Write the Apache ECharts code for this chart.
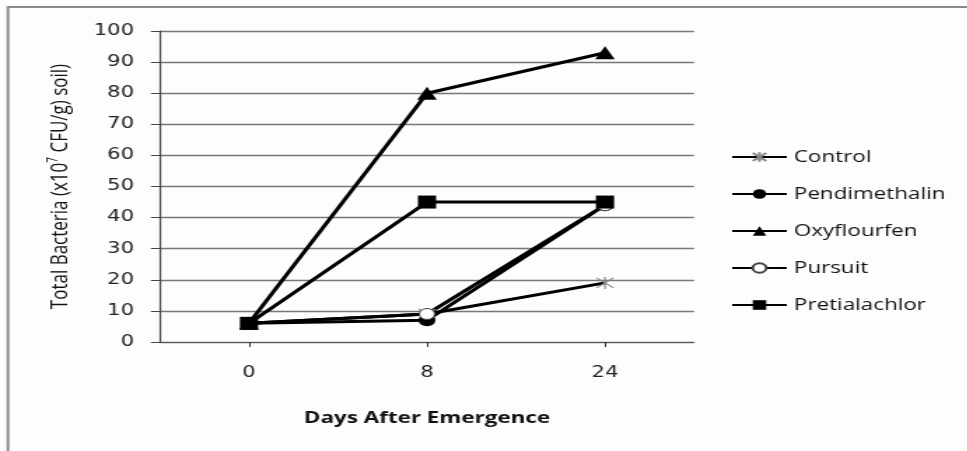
<!DOCTYPE html>
<html>
<head>
<meta charset="utf-8">
<style>
  html, body { margin: 0; padding: 0; background: #fdfdfd; overflow: hidden; }
  #wrap { width: 967px; height: 451px; overflow: hidden; }
  /* the figure is drawn narrow and widened, as in the printed original */
  #chart { width: 691px; height: 451px; transform: scaleX(1.4); transform-origin: 0 0; }
</style>
<script src="https://cdn.jsdelivr.net/npm/echarts@6/dist/echarts.min.js"></script>
</head>
<body>
<div id="wrap"><div id="chart"></div></div>
<script>
// Days after emergence (category axis)
const days = ['0', '8', '24'];

// Total bacteria counts (x10^7 CFU/g soil) per treatment
const control       = [6, 9, 19];
const pendimethalin = [6, 7, 44];
const oxyflourfen   = [6, 80, 93];
const pursuit       = [6, 9, 44];
const pretialachlor = [6, 45, 45];

const yTicks = { min: 0, max: 100, step: 10 };

const asterisk = 'path://M0,0L10,10M10,0L0,10M5,-1L5,11';

const chart = echarts.init(document.getElementById('chart'));

function lineSeries(name, data, symbol, size, itemStyle) {
  return {
    name, type: 'line', data,
    symbol, symbolSize: size,
    lineStyle: { color: '#000', width: 3 },
    itemStyle: Object.assign({ color: '#000' }, itemStyle || {}),
    emphasis: { disabled: true },
    animation: false
  };
}

chart.setOption({
  backgroundColor: '#fdfdfd',
  animation: false,
  graphic: [
    { type: 'line', shape: { x1: 5, y1: 7, x2: 700, y2: 7 }, style: { stroke: '#8a8a8a', lineWidth: 2 } },
    { type: 'line', shape: { x1: 5.7, y1: 6, x2: 5.7, y2: 451 }, style: { stroke: '#8a8a8a', lineWidth: 2 } }
  ],
  grid: { left: 114.3, right: 195.3, top: 31, bottom: 109, containLabel: false },
  legend: {
    orient: 'vertical',
    left: 517, top: 144,
    itemWidth: 39, itemHeight: 12, itemGap: 21,
    textStyle: { fontFamily: 'Open Sans', fontSize: 16, color: '#111' },
    data: ['Control', 'Pendimethalin', 'Oxyflourfen', 'Pursuit', 'Pretialachlor']
  },
  xAxis: {
    type: 'category',
    data: days,
    boundaryGap: true,
    name: 'Days After Emergence',
    nameLocation: 'middle',
    nameGap: 68,
    nameTextStyle: { fontFamily: 'Open Sans', fontWeight: 'bold', fontSize: 16, color: '#111' },
    axisLine: { lineStyle: { color: '#555', width: 1 } },
    axisTick: { show: true, alignWithLabel: true, length: 5, lineStyle: { color: '#333' } },
    axisLabel: { margin: 24, fontFamily: 'DejaVu Sans', fontSize: 15, color: '#222' },
    splitLine: { show: false }
  },
  yAxis: {
    type: 'value',
    min: yTicks.min, max: yTicks.max, interval: yTicks.step,
    name: '{a|Total Bacteria (x10}{s|7}{a| CFU/g) soil)}',
    nameLocation: 'middle',
    nameRotate: 90,
    nameGap: 62,
    nameTextStyle: {
      rich: {
        a: { fontFamily: 'Open Sans', fontSize: 17, color: '#111' },
        s: { fontFamily: 'Open Sans', fontSize: 10, color: '#111', verticalAlign: 'top', padding: [0, 0, 9, 0] }
      }
    },
    axisLine: { show: true, lineStyle: { color: '#444', width: 1.2 } },
    axisTick: { show: true, length: 6.5, lineStyle: { color: '#444' } },
    axisLabel: { margin: 18.6, fontFamily: 'DejaVu Sans', fontSize: 15, color: '#222' },
    splitLine: { show: true, lineStyle: { color: '#777', width: 1.3 } }
  },
  series: [
    lineSeries('Control', control, asterisk, 12, { color: 'none', borderColor: '#888', borderWidth: 1.2 }),
    lineSeries('Pendimethalin', pendimethalin, 'circle', 12),
    lineSeries('Oxyflourfen', oxyflourfen, 'triangle', [14, 13]),
    lineSeries('Pursuit', pursuit, 'circle', 11, { color: '#fff', borderColor: '#444', borderWidth: 1 }),
    lineSeries('Pretialachlor', pretialachlor, 'rect', 13)
  ]
});
</script>
</body>
</html>
